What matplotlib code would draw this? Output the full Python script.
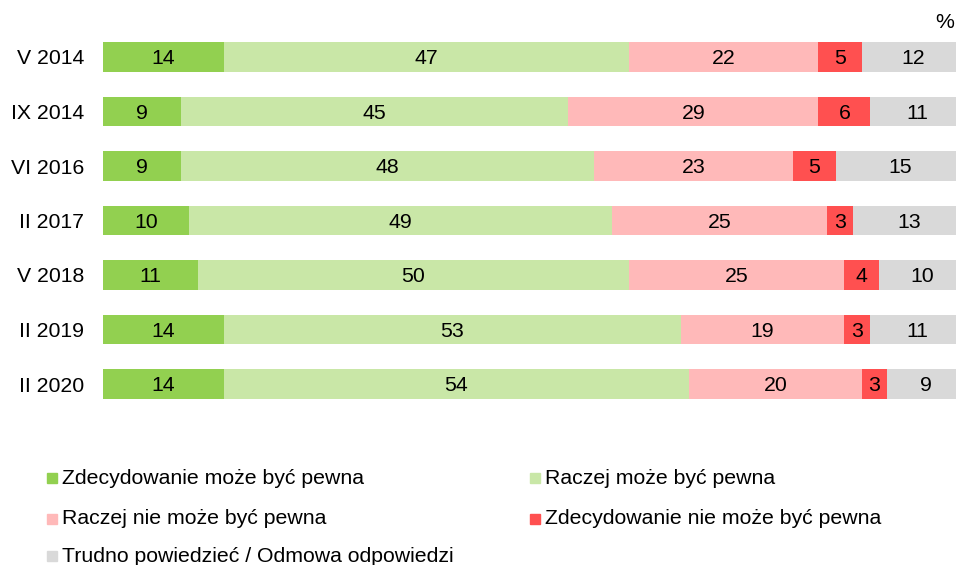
import numpy as np
import matplotlib.pyplot as plt
from matplotlib.patches import Rectangle

plt.rcParams['font.family'] = ['Liberation Sans', 'DejaVu Sans']

# survey waves and answer shares (%)
waves = ['V 2014', 'IX 2014', 'VI 2016', 'II 2017', 'V 2018', 'II 2019', 'II 2020']
strong_yes = [14, 9, 9, 10, 11, 14, 14]
rather_yes = [47, 45, 48, 49, 50, 53, 54]
rather_no = [22, 29, 23, 25, 25, 19, 20]
strong_no = [5, 6, 5, 3, 4, 3, 3]
hard_to_say = [12, 11, 15, 13, 10, 11, 9]

labels = ['Zdecydowanie może być pewna', 'Raczej może być pewna',
          'Raczej nie może być pewna', 'Zdecydowanie nie może być pewna',
          'Trudno powiedzieć / Odmowa odpowiedzi']
colors = ['#92D050', '#C9E7A7', '#FFB9B9', '#FF5050', '#D9D9D9']

series = [strong_yes, rather_yes, rather_no, strong_no, hard_to_say]
FS = 15.3

fig = plt.figure(figsize=(9.56, 5.65), dpi=100)
# the bar area runs a little past the right edge, as in the original
ax = fig.add_axes([103 / 956, 1 - 411.25 / 565, 862 / 956, 381.5 / 565])

y = np.arange(len(waves))
left = np.zeros(len(waves))
for vals, col in zip(series, colors):
    vals = np.array(vals, dtype=float)
    ax.barh(y, vals, left=left, height=0.55, color=col, edgecolor='none')
    for yi, (l, v) in enumerate(zip(left, vals)):
        ax.text(l + v / 2, yi + 0.03, f'{int(v)}', ha='center', va='center',
                fontsize=FS, color='black')
    left += vals

ax.set_xlim(0, 100)
ax.set_ylim(len(waves) - 0.5, -0.5)
ax.set_yticks(y)
ax.set_yticklabels(waves, fontsize=FS)
ax.tick_params(axis='y', length=0, pad=13.5)
ax.set_xticks([])
for s in ax.spines.values():
    s.set_visible(False)

fig.text(945 / 956, 1 - 22 / 565, '%', ha='center', va='center', fontsize=FS)

# legend drawn by hand, two columns
leg_pos = [(47, 477), (530, 477), (47, 518), (530, 518), (47, 555)]
for (px, py), lab, col in zip(leg_pos, labels, colors):
    fig.patches.append(Rectangle((px / 956, 1 - (py + 6) / 565), 10 / 956, 10 / 565,
                                 transform=fig.transFigure, color=col, figure=fig))
    fig.text((px + 15) / 956, 1 - (py + 1) / 565, lab, ha='left', va='center', fontsize=FS)

fig.savefig('out.png', dpi=100)
